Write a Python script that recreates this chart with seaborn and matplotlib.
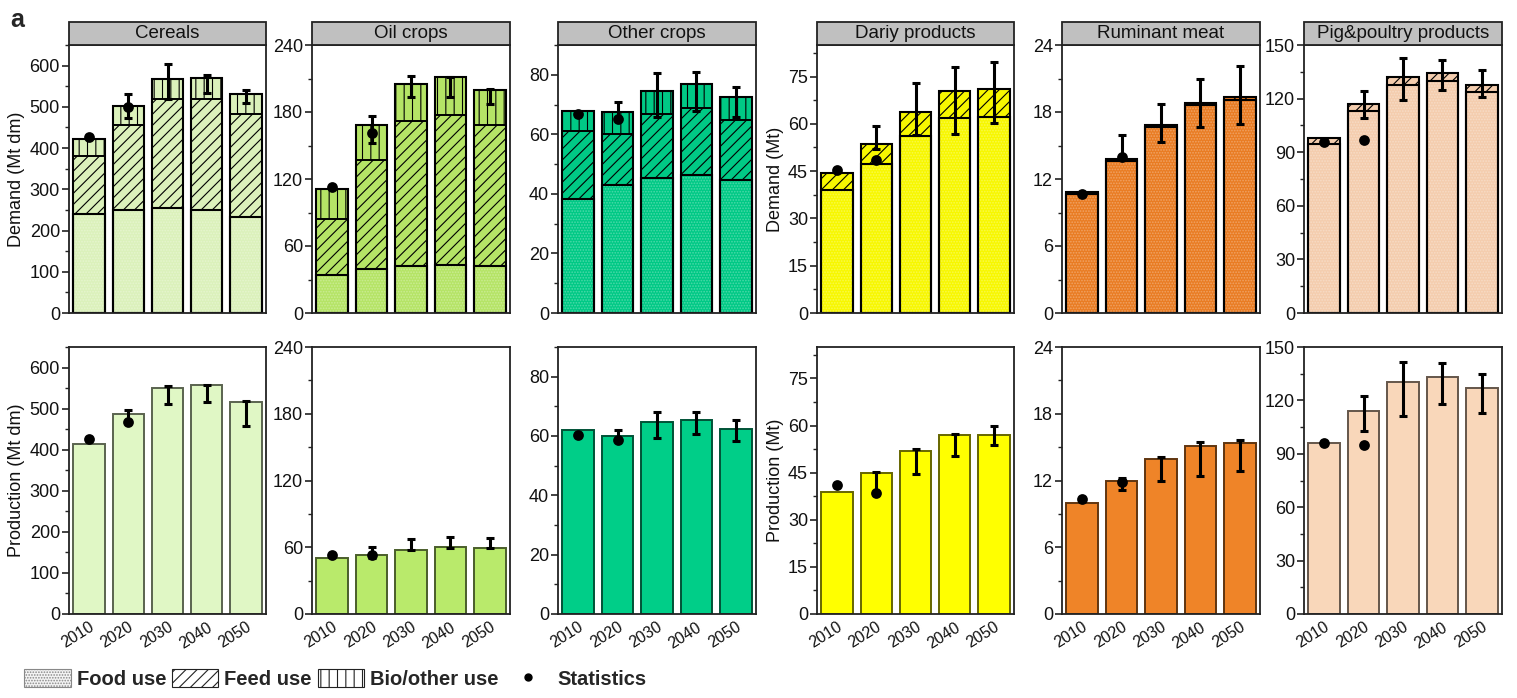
import numpy as np
import pandas as pd
import matplotlib
matplotlib.use("Agg")
import matplotlib.pyplot as plt
from matplotlib.patches import Rectangle, Patch
from matplotlib.lines import Line2D
from matplotlib.ticker import MultipleLocator
import seaborn as sns

nan = np.nan

# ---------------- data ----------------
years = ["2010", "2020", "2030", "2040", "2050"]
groups = ["Cereals", "Oil crops", "Other crops", "Dariy products",
          "Ruminant meat", "Pig&poultry products"]

# Demand components
cereal_food = [241, 251, 255, 250, 234]
cereal_feed = [139, 205, 264, 270, 249]
cereal_bio = [43, 47, 49, 49, 47]
oil_food = [34, 39, 42, 43, 42]
oil_feed = [50, 98, 130, 134, 126]
oil_bio = [27, 31, 33, 34, 32]
other_food = [38.4, 43.0, 45.3, 46.3, 44.6]
other_feed = [22.6, 17.1, 21.5, 22.5, 20.2]
other_bio = [6.7, 7.4, 7.9, 8.0, 7.7]
dairy_food = [39.0, 47.2, 56.0, 61.8, 62.2]
dairy_feed = [5.4, 6.5, 7.7, 8.6, 8.7]
dairy_bio = [0, 0, 0, 0, 0]
rum_food = [10.7, 13.6, 16.65, 18.6, 19.1]
rum_feed = [0.12, 0.15, 0.17, 0.2, 0.2]
rum_bio = [0, 0, 0, 0, 0]
pig_food = [94.4, 113.2, 127.6, 130.0, 123.5]
pig_feed = [3.4, 4.0, 4.3, 4.1, 4.3]
pig_bio = [0, 0, 0, 0, 0]

# Demand uncertainty ranges (low / high)
cereal_dem_lo = [nan, 474, 519, 533.5, 509]
cereal_dem_hi = [nan, 532, 603, 576.5, 540]
oil_dem_lo = [nan, 152, 193.4, 193.4, 187.5]
oil_dem_hi = [nan, 176.7, 212.2, 211.6, 200.3]
other_dem_lo = [nan, 64.9, 65.8, 67.7, 65.7]
other_dem_hi = [nan, 71.0, 80.6, 81.0, 76.0]
dairy_dem_lo = [nan, 52.1, 56.3, 56.7, 60.4]
dairy_dem_hi = [nan, 59.3, 73.0, 77.9, 79.5]
rum_dem_lo = [nan, 13.9, 15.3, 16.7, 16.9]
rum_dem_hi = [nan, 15.9, 18.75, 21.0, 22.15]
pig_dem_lo = [nan, 109.1, 119.0, 125.0, 120.9]
pig_dem_hi = [nan, 124.0, 142.5, 141.8, 136.0]

# Demand statistics (2010, 2020)
cereal_dem_stat = [427, 498.6]
oil_dem_stat = [113, 161]
other_dem_stat = [66.8, 65.1]
dairy_dem_stat = [45.3, 48.5]
rum_dem_stat = [10.7, 14.0]
pig_dem_stat = [95.5, 96.8]

# Production
cereal_prod = [413.8, 486.6, 550.6, 556.3, 515.8]
oil_prod = [50.2, 53.2, 57.1, 59.8, 59.5]
other_prod = [61.9, 60.0, 64.6, 65.5, 62.4]
dairy_prod = [38.9, 45.0, 52.0, 57.0, 57.0]
rum_prod = [10.0, 12.0, 13.93, 15.12, 15.33]
pig_prod = [95.8, 114.1, 130.6, 133.0, 126.8]

cereal_prod_lo = [nan, 470, 511, 516, 458]
cereal_prod_hi = [nan, 495.5, 555.5, 558.7, 518.2]
oil_prod_lo = [nan, 50.2, 57.1, 59.2, 59.2]
oil_prod_hi = [nan, 60.4, 67.2, 69.3, 68.4]
other_prod_lo = [nan, 58.5, 59.4, 60.6, 58.3]
other_prod_hi = [nan, 62.1, 68.25, 68.0, 65.5]
dairy_prod_lo = [nan, 38.4, 44.5, 50.2, 53.8]
dairy_prod_hi = [nan, 45.3, 52.4, 57.3, 60.0]
rum_prod_lo = [nan, 11.15, 11.92, 12.43, 12.88]
rum_prod_hi = [nan, 12.2, 14.14, 15.45, 15.66]
pig_prod_lo = [nan, 102.7, 111.2, 117.9, 112.8]
pig_prod_hi = [nan, 122.7, 141.6, 141.0, 134.9]

cereal_prod_stat = [426.7, 466.4]
oil_prod_stat = [53.2, 52.6]
other_prod_stat = [60.4, 58.6]
dairy_prod_stat = [41.0, 38.5]
rum_prod_stat = [10.37, 11.9]
pig_prod_stat = [96.0, 94.9]

# axis settings: (ymax, major, minor)
y_limits = [650, 240, 90, 85, 24, 150]
y_major = [100, 60, 20, 15, 6, 30]
y_minor = [50, 30, 10, 7.5, 3, 15]

top_colors = ["#DBF1BB", "#B5E466", "#00C985", "#F7F700", "#E97C23", "#F4CDAE"]
bot_colors = ["#E0F7C5", "#B9EA6B", "#00CE88", "#FFFF00", "#EF8428", "#F9D7BA"]

demand = [
    (cereal_food, cereal_feed, cereal_bio, cereal_dem_lo, cereal_dem_hi, cereal_dem_stat),
    (oil_food, oil_feed, oil_bio, oil_dem_lo, oil_dem_hi, oil_dem_stat),
    (other_food, other_feed, other_bio, other_dem_lo, other_dem_hi, other_dem_stat),
    (dairy_food, dairy_feed, dairy_bio, dairy_dem_lo, dairy_dem_hi, dairy_dem_stat),
    (rum_food, rum_feed, rum_bio, rum_dem_lo, rum_dem_hi, rum_dem_stat),
    (pig_food, pig_feed, pig_bio, pig_dem_lo, pig_dem_hi, pig_dem_stat),
]
production = [
    (cereal_prod, cereal_prod_lo, cereal_prod_hi, cereal_prod_stat),
    (oil_prod, oil_prod_lo, oil_prod_hi, oil_prod_stat),
    (other_prod, other_prod_lo, other_prod_hi, other_prod_stat),
    (dairy_prod, dairy_prod_lo, dairy_prod_hi, dairy_prod_stat),
    (rum_prod, rum_prod_lo, rum_prod_hi, rum_prod_stat),
    (pig_prod, pig_prod_lo, pig_prod_hi, pig_prod_stat),
]

# ---------------- style ----------------
sns.set_theme(style="ticks")
plt.rcParams["font.family"] = ["Liberation Sans", "DejaVu Sans"]
plt.rcParams["hatch.linewidth"] = 0.8

W, H = 1517, 698
fig = plt.figure(figsize=(W / 100, H / 100), dpi=100)

col_px = [(69, 266), (312, 510), (558, 756), (817, 1014), (1062, 1260), (1304, 1502)]
top_px = (45, 313)
bot_px = (347, 614)

SPINE = "#222222"
TXT = "#111111"


def make_ax(cx, rowpx):
    l, r = cx
    t, b = rowpx
    return fig.add_axes([l / W, 1 - b / H, (r - l) / W, (b - t) / H])


def lighten(c, f):
    rgb = np.array(matplotlib.colors.to_rgb(c))
    return tuple(rgb + (1 - rgb) * f)


def darken(c, f):
    rgb = np.array(matplotlib.colors.to_rgb(c))
    return tuple(rgb * (1 - f))


def layer(ax, vals, color, hatch=None, edge="black", lw=1.4, face=True):
    n0 = len(ax.patches)
    sns.barplot(x=years, y=vals, ax=ax, color=color, saturation=1, width=0.8,
                errorbar=None)
    for p in ax.patches[n0:]:
        if face:
            p.set_facecolor(color)
        else:
            p.set_facecolor("none")
        p.set_edgecolor(edge)
        p.set_linewidth(lw)
        if hatch:
            p.set_hatch(hatch)


def style_ax(ax, i, bottom_row):
    ax.set_ylim(0, y_limits[i])
    ax.set_xlim(-0.51, 4.51)
    ax.yaxis.set_major_locator(MultipleLocator(y_major[i]))
    ax.yaxis.set_minor_locator(MultipleLocator(y_minor[i]))
    ax.tick_params(axis="y", which="major", direction="out", length=5, width=1.2,
                   labelsize=13, colors=SPINE, labelcolor=TXT, pad=1.5)
    ax.tick_params(axis="y", which="minor", direction="out", length=3, width=1.0,
                   colors=SPINE)
    for s in ax.spines.values():
        s.set_visible(True)
        s.set_linewidth(1.3)
        s.set_color(SPINE)
    ax.set_xlabel("")
    if bottom_row:
        ax.tick_params(axis="x", length=0, pad=4)
        ax.set_xticks(range(len(years)))
        ax.set_xticklabels(years, rotation=32, ha="right", rotation_mode="anchor",
                           fontsize=11.5, color=TXT)
    else:
        ax.tick_params(axis="x", length=0, labelbottom=False)


x_pos = np.arange(len(years))

# ---------------- top row: demand ----------------
for i, (food, feed, bio, lo, hi, stat) in enumerate(demand):
    ax = make_ax(col_px[i], top_px)
    food = np.array(food, float)
    feed = np.array(feed, float)
    bio = np.array(bio, float)
    c = top_colors[i]
    total = food + feed + bio
    ff = food + feed
    if bio.sum() > 0:
        layer(ax, total, c, hatch="||")
    layer(ax, ff, c, hatch="///")
    layer(ax, food, c, hatch="......", edge=lighten(c, 0.3), lw=0)
    layer(ax, food, c, edge="black", lw=1.5, face=False)
    if bio.sum() > 0:
        layer(ax, total, c, edge="black", lw=1.5, face=False)
    else:
        layer(ax, ff, c, edge="black", lw=1.5, face=False)
    lo = np.array(lo, float)
    hi = np.array(hi, float)
    mid = (lo + hi) / 2
    ax.errorbar(x_pos, mid, yerr=[mid - lo, hi - mid], fmt="none", ecolor="black",
                elinewidth=2.2, capsize=3, capthick=2.2, zorder=5)
    ax.scatter(x_pos[:len(stat)], stat, s=60, color="black", zorder=6, linewidths=0)
    style_ax(ax, i, False)
    if i == 0:
        ax.set_ylabel("Demand (Mt dm)", fontsize=13, color=TXT, labelpad=3)
    elif i == 3:
        ax.set_ylabel("Demand (Mt)", fontsize=13, color=TXT, labelpad=3)
    else:
        ax.set_ylabel("")
    # strip header
    ax.add_patch(Rectangle((0, 1), 1, 23 / 268, transform=ax.transAxes, clip_on=False,
                           facecolor="#C0C0C0", edgecolor=SPINE, linewidth=1.3, zorder=10))
    ax.text(0.5, 1 + 11.5 / 268, groups[i], transform=ax.transAxes, ha="center",
            va="center", fontsize=13.5, color=TXT, zorder=11)

# ---------------- bottom row: production ----------------
for i, (prod, lo, hi, stat) in enumerate(production):
    ax = make_ax(col_px[i], bot_px)
    c = bot_colors[i]
    layer(ax, prod, c, edge=darken(c, 0.6), lw=1.4)
    lo = np.array(lo, float)
    hi = np.array(hi, float)
    mid = (lo + hi) / 2
    ax.errorbar(x_pos, mid, yerr=[mid - lo, hi - mid], fmt="none", ecolor="black",
                elinewidth=2.2, capsize=3, capthick=2.2, zorder=5)
    ax.scatter(x_pos[:len(stat)], stat, s=60, color="black", zorder=6, linewidths=0)
    style_ax(ax, i, True)
    if i == 0:
        ax.set_ylabel("Production (Mt dm)", fontsize=13, color=TXT, labelpad=3)
    elif i == 3:
        ax.set_ylabel("Production (Mt)", fontsize=13, color=TXT, labelpad=3)
    else:
        ax.set_ylabel("")

# ---------------- legend & panel label ----------------
handles = [
    Patch(facecolor="#F4F4F4", edgecolor="#888888", hatch="......", linewidth=0.8),
    Patch(facecolor="white", edgecolor="#222222", hatch="///", linewidth=0.8),
    Patch(facecolor="white", edgecolor="#222222", hatch="||", linewidth=0.8),
    Line2D([], [], marker="o", color="black", linestyle="none", markersize=5),
]
labels = ["Food use", "Feed use", "Bio/other use", "Statistics"]
fig.legend(handles, labels, loc="center left", bbox_to_anchor=(0.004, 0.027),
           ncol=4, frameon=False, prop={"weight": "bold", "size": 14.5},
           handlelength=2.3, handleheight=1.0, columnspacing=0.3,
           handletextpad=0.3)

fig.text(0.007, 0.988, "a", fontsize=18, fontweight="bold", va="top", ha="left")

fig.savefig("out.png", dpi=100)
